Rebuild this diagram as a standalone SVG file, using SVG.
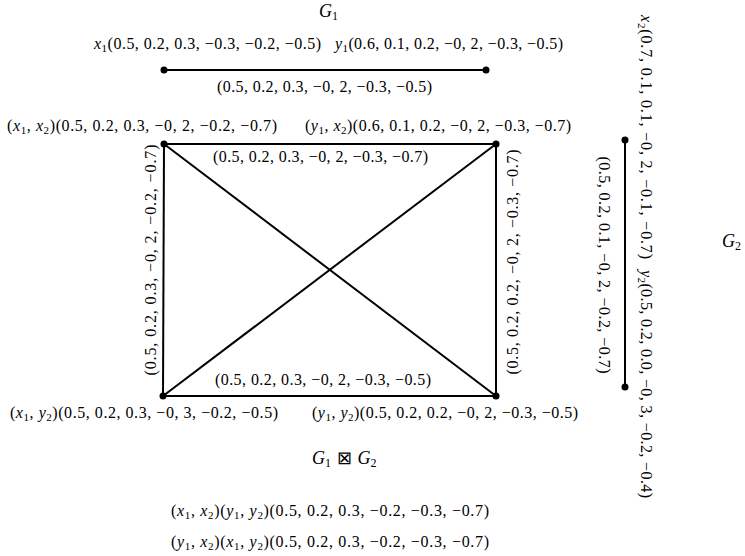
<svg xmlns="http://www.w3.org/2000/svg" width="745" height="556" viewBox="0 0 745 556">
<style>
.t{font-family:"Liberation Serif","DejaVu Serif",serif;font-size:16px;fill:#000}
.i{font-style:italic}
.s{font-size:11px}
.g{font-size:18px}
.gs{font-size:12px}
.e{stroke:#000;stroke-width:2;fill:none}
.n{fill:#000}
</style>
<rect width="745" height="556" fill="#fff"/>
<g id="connectors">
<line class="e" x1="164" y1="70" x2="486" y2="70"/>
<line class="e" x1="164" y1="144" x2="496" y2="144"/>
<line class="e" x1="163" y1="396" x2="496" y2="396"/>
<line class="e" x1="164" y1="144" x2="163" y2="396"/>
<line class="e" x1="496" y1="144" x2="496" y2="396"/>
<line class="e" x1="164" y1="144" x2="496" y2="396"/>
<line class="e" x1="496" y1="144" x2="163" y2="396"/>
<line class="e" x1="625" y1="140" x2="625" y2="387"/>
</g>
<g id="edge-labels">
<text class="t" x="217" y="92" textLength="215">(0.5, 0.2, 0.3, −0, 2, −0.3, −0.5)</text>
<text class="t" x="213" y="162" textLength="215">(0.5, 0.2, 0.3, −0, 2, −0.3, −0.7)</text>
<text class="t" x="215" y="385" textLength="216">(0.5, 0.2, 0.3, −0, 2, −0.3, −0.5)</text>
<text class="t" transform="translate(156,260) rotate(-90)" text-anchor="middle" textLength="231">(0.5, 0.2, 0.3, −0, 2, −0.2, −0.7)</text>
<text class="t" transform="translate(518,262) rotate(-90)" text-anchor="middle" textLength="225">(0.5, 0.2, 0.2, −0, 2, −0.3, −0.7)</text>
<text class="t" transform="translate(599,265) rotate(90)" text-anchor="middle" textLength="217">(0.5, 0.2, 0.1, −0, 2, −0.2, −0.7)</text>
</g>
<g id="node-x1">
<circle class="n" cx="164" cy="70" r="3.5"/>
<text class="t" x="94" y="49" textLength="227"><tspan class="i">x</tspan><tspan class="s" dy="3">1</tspan><tspan dy="-3">(0.5, 0.2, 0.3, −0.3, −0.2, −0.5)</tspan></text>
</g>
<g id="node-y1">
<circle class="n" cx="486" cy="70" r="3.5"/>
<text class="t" x="335" y="49" textLength="228"><tspan class="i">y</tspan><tspan class="s" dy="3">1</tspan><tspan dy="-3">(0.6, 0.1, 0.2, −0, 2, −0.3, −0.5)</tspan></text>
</g>
<g id="node-x1x2">
<circle class="n" cx="164" cy="144" r="3.5"/>
<text class="t" x="7" y="131" textLength="270">(<tspan class="i">x</tspan><tspan class="s" dy="3">1</tspan><tspan dy="-3">, </tspan><tspan class="i">x</tspan><tspan class="s" dy="3">2</tspan><tspan dy="-3">)(0.5, 0.2, 0.3, −0, 2, −0.2, −0.7)</tspan></text>
</g>
<g id="node-y1x2">
<circle class="n" cx="496" cy="144" r="3.5"/>
<text class="t" x="305" y="131" textLength="266">(<tspan class="i">y</tspan><tspan class="s" dy="3">1</tspan><tspan dy="-3">, </tspan><tspan class="i">x</tspan><tspan class="s" dy="3">2</tspan><tspan dy="-3">)(0.6, 0.1, 0.2, −0, 2, −0.3, −0.7)</tspan></text>
</g>
<g id="node-x1y2">
<circle class="n" cx="163" cy="396" r="3.5"/>
<text class="t" x="10" y="418" textLength="268">(<tspan class="i">x</tspan><tspan class="s" dy="3">1</tspan><tspan dy="-3">, </tspan><tspan class="i">y</tspan><tspan class="s" dy="3">2</tspan><tspan dy="-3">)(0.5, 0.2, 0.3, −0, 3, −0.2, −0.5)</tspan></text>
</g>
<g id="node-y1y2">
<circle class="n" cx="496" cy="396" r="3.5"/>
<text class="t" x="312" y="418" textLength="266">(<tspan class="i">y</tspan><tspan class="s" dy="3">1</tspan><tspan dy="-3">, </tspan><tspan class="i">y</tspan><tspan class="s" dy="3">2</tspan><tspan dy="-3">)(0.5, 0.2, 0.2, −0, 2, −0.3, −0.5)</tspan></text>
</g>
<g id="node-x2">
<circle class="n" cx="625" cy="140" r="3.5"/>
<text class="t" transform="translate(641,15) rotate(90)" textLength="244"><tspan class="i">x</tspan><tspan class="s" dy="3">2</tspan><tspan dy="-3">(0.7, 0.1, 0.1, −0, 2, −0.1, −0.7)</tspan></text>
</g>
<g id="node-y2">
<circle class="n" cx="625" cy="387" r="3.5"/>
<text class="t" transform="translate(641,270) rotate(90)" textLength="228"><tspan class="i">y</tspan><tspan class="s" dy="3">2</tspan><tspan dy="-3">(0.5, 0.2, 0.0, −0, 3, −0.2, −0.4)</tspan></text>
</g>
<g id="titles">
<text class="t g" x="319" y="17"><tspan class="i">G</tspan><tspan class="gs" dy="3">1</tspan></text>
<text class="t g" x="722" y="247"><tspan class="i">G</tspan><tspan class="gs" dy="3">2</tspan></text>
<text class="t g" x="312" y="464"><tspan class="i">G</tspan><tspan class="gs" dy="3">1</tspan><tspan dy="-3" style="font-family:'DejaVu Sans',sans-serif;font-weight:200"> ⊠ </tspan><tspan class="i">G</tspan><tspan class="gs" dy="3">2</tspan></text>
<text class="t" x="171" y="516" textLength="318">(<tspan class="i">x</tspan><tspan class="s" dy="3">1</tspan><tspan dy="-3">, </tspan><tspan class="i">x</tspan><tspan class="s" dy="3">2</tspan><tspan dy="-3">)(</tspan><tspan class="i">y</tspan><tspan class="s" dy="3">1</tspan><tspan dy="-3">, </tspan><tspan class="i">y</tspan><tspan class="s" dy="3">2</tspan><tspan dy="-3">)(0.5, 0.2, 0.3, −0.2, −0.3, −0.7)</tspan></text>
<text class="t" x="171" y="547" textLength="318">(<tspan class="i">y</tspan><tspan class="s" dy="3">1</tspan><tspan dy="-3">, </tspan><tspan class="i">x</tspan><tspan class="s" dy="3">2</tspan><tspan dy="-3">)(</tspan><tspan class="i">x</tspan><tspan class="s" dy="3">1</tspan><tspan dy="-3">, </tspan><tspan class="i">y</tspan><tspan class="s" dy="3">2</tspan><tspan dy="-3">)(0.5, 0.2, 0.3, −0.2, −0.3, −0.7)</tspan></text>
</g>
</svg>
